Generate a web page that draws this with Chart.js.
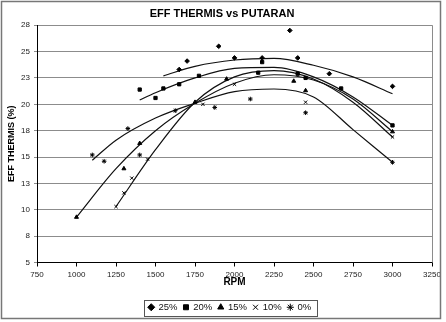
<!DOCTYPE html>
<html>
<head>
<meta charset="utf-8">
<script src="https://cdn.jsdelivr.net/npm/chart.js@4/dist/chart.umd.min.js"></script>
<style>
  html, body { margin: 0; padding: 0; background: #fff; }
  canvas { display: block; }
</style>
</head>
<body>
<canvas id="grafik" width="446" height="322"></canvas>
<script>
// nilai: putaran (rpm) dan efisiensi thermis (%)
var labelSeri = ["25%", "20%", "15%", "10%", "0%"];
var markerSeri = ["rectRot", "rect", "triangle", "crossRot", "star"];

var rpm25 = [1650, 1700, 1900, 2000, 2175, 2350, 2400, 2600, 3000];
var eff25 = [23.3, 24.1, 25.5, 24.4, 24.4, 27.0, 24.4, 22.9, 21.7];

var rpm20 = [1400, 1500, 1550, 1650, 1775, 2150, 2175, 2400, 2450, 2675, 3000];
var eff20 = [21.4, 20.6, 21.5, 21.9, 22.7, 23.0, 24.0, 22.9, 22.5, 21.5, 18.0];

var rpm15 = [1000, 1300, 1400, 1750, 1950, 2375, 2450, 3000];
var eff15 = [9.3, 13.9, 16.3, 20.2, 22.4, 22.2, 21.3, 17.4];

var rpm10 = [1250, 1300, 1350, 1450, 1800, 2000, 2450, 3000];
var eff10 = [10.3, 11.6, 13.0, 14.8, 20.0, 21.9, 20.2, 16.9];

var rpm0 = [1100, 1175, 1325, 1400, 1625, 1875, 2100, 2450, 3000];
var eff0 = [15.2, 14.6, 17.7, 15.2, 19.4, 19.7, 20.5, 19.2, 14.5];

// garis trend (polinomial di Excel), dibaca dari gambar tiap 250 rpm
var trendRpm25 = [1550, 1750, 2000, 2250, 2500, 2750, 3000];
var trendEff25 = [22.7, 23.6, 24.2, 24.35, 23.7, 22.6, 21.0];

var trendRpm20 = [1400, 1500, 1750, 2000, 2250, 2500, 2750, 3000];
var trendEff20 = [20.4, 21.1, 22.5, 23.4, 23.5, 22.6, 20.7, 18.0];

var trendRpm15 = [1000, 1250, 1500, 1750, 2000, 2250, 2500, 2750, 3000];
var trendEff15 = [9.3, 13.9, 17.5, 20.1, 22.0, 22.8, 22.3, 20.5, 17.4];

var trendRpm10 = [1250, 1500, 1750, 2000, 2250, 2500, 2750, 3000];
var trendEff10 = [10.3, 15.7, 20.2, 22.6, 23.2, 22.4, 20.2, 16.9];

var trendRpm0 = [1100, 1250, 1500, 1750, 2000, 2250, 2500, 2750, 3000];
var trendEff0 = [14.7, 16.6, 18.7, 20.1, 21.2, 21.45, 20.7, 17.6, 14.5];

var xTicks = [750, 1000, 1250, 1500, 1750, 2000, 2250, 2500, 2750, 3000, 3250];

function pasang(xs, ys) {
    var hasil = [];
    for (var i = 0; i < xs.length; i++) {
        hasil.push({x: xs[i], y: ys[i]});
    }
    return hasil;
}

var semuaRpm = [rpm25, rpm20, rpm15, rpm10, rpm0];
var semuaEff = [eff25, eff20, eff15, eff10, eff0];
var semuaTrendRpm = [trendRpm25, trendRpm20, trendRpm15, trendRpm10, trendRpm0];
var semuaTrendEff = [trendEff25, trendEff20, trendEff15, trendEff10, trendEff0];

var datasets = [];
for (var i = 0; i < labelSeri.length; i++) {
    datasets.push({
        label: labelSeri[i],
        data: pasang(semuaRpm[i], semuaEff[i]),
        pointStyle: markerSeri[i],
        pointRadius: 2.3,
        borderColor: '#000',
        backgroundColor: '#000',
        borderWidth: 1,
        showLine: false
    });
}
for (var j = 0; j < labelSeri.length; j++) {
    datasets.push({
        label: 'trend ' + labelSeri[j],
        data: pasang(semuaTrendRpm[j], semuaTrendEff[j]),
        showLine: true,
        pointRadius: 0,
        borderColor: '#111',
        borderWidth: 1.2,
        cubicInterpolationMode: 'monotone',
        fill: false
    });
}

var padLegenda = 6;

// bingkai luar, tepi plot dan kotak legenda
var bingkai = {
    id: 'bingkai',
    afterUpdate: function (chart) {
        // judul dan legenda sedikit ke kanan seperti aslinya
        var t = chart.titleBlock;
        if (t) { t.left += 6; t.right += 6; }
        var lg = chart.legend;
        if (lg) { lg.left += 14; lg.right += 14; }
    },
    beforeDraw: function (chart) {
        var ctx = chart.ctx;
        ctx.save();
        ctx.fillStyle = '#fff';
        ctx.fillRect(0, 0, chart.width, chart.height);
        ctx.restore();
    },
    afterDraw: function (chart) {
        var ctx = chart.ctx;
        var a = chart.chartArea;
        ctx.save();
        ctx.strokeStyle = '#8c8c8c';
        ctx.lineWidth = 1;
        ctx.beginPath();
        ctx.moveTo(a.right + 0.5, a.top);
        ctx.lineTo(a.right + 0.5, a.bottom);
        ctx.stroke();

        ctx.strokeStyle = '#777';
        ctx.lineWidth = 1.5;
        ctx.strokeRect(1.5, 1.5, 439, 317);

        var lg = chart.legend;
        if (lg && lg.lineWidths) {
            var lebar = lg.lineWidths[0];
            var mulai = (lg.left + padLegenda + lg.right - lebar) / 2;
            var kiri = mulai - 5;
            var kanan = mulai + lebar - padLegenda + 5;
            var atas = lg.top + padLegenda - 3;
            var tinggi = (lg._itemHeight || 9.5) + 6;
            ctx.strokeStyle = '#555';
            ctx.lineWidth = 1;
            ctx.strokeRect(Math.round(kiri) + 0.5, Math.round(atas) + 0.5, Math.round(kanan - kiri), Math.round(tinggi));
        }
        ctx.restore();
    }
};

Chart.defaults.font.family = '"Liberation Sans", Arial, sans-serif';
Chart.defaults.color = '#111';

new Chart(document.getElementById('grafik'), {
    type: 'scatter',
    data: {datasets: datasets},
    options: {
        responsive: false,
        animation: false,
        layout: {padding: {left: 0, right: 14, top: 0, bottom: 0}},
        plugins: {
            title: {
                display: true,
                text: 'EFF THERMIS vs PUTARAN',
                color: '#000',
                font: {size: 11, weight: 'bold'},
                padding: {top: 7, bottom: 5}
            },
            legend: {
                display: true,
                position: 'bottom',
                labels: {
                    usePointStyle: true,
                    boxWidth: 5,
                    boxHeight: 5,
                    padding: padLegenda,
                    color: '#111',
                    font: {size: 9.5},
                    filter: function (item) {
                        return item.datasetIndex < labelSeri.length;
                    }
                }
            },
            tooltip: {enabled: false}
        },
        scales: {
            x: {
                type: 'linear',
                min: 750,
                max: 3250,
                afterBuildTicks: function (scale) {
                    scale.ticks = xTicks.map(function (v) { return {value: v}; });
                },
                afterFit: function (scale) {
                    scale.height = 34;
                },
                ticks: {
                    font: {size: 8},
                    color: '#222',
                    padding: 3,
                    maxRotation: 0,
                    autoSkip: false,
                    callback: function (v) { return String(v); }
                },
                grid: {
                    drawOnChartArea: false,
                    drawTicks: true,
                    tickLength: 4,
                    color: '#000'
                },
                border: {color: '#000', width: 1},
                title: {
                    display: true,
                    text: 'RPM',
                    color: '#000',
                    font: {size: 10, weight: 'bold'},
                    padding: {top: 0, bottom: 8}
                }
            },
            y: {
                min: 5,
                max: 27.5,
                afterFit: function (scale) {
                    scale.width = 37;
                },
                ticks: {
                    stepSize: 2.5,
                    font: {size: 8},
                    color: '#222',
                    padding: 4,
                    callback: function (v) { return String(Math.round(v)); }
                },
                grid: {
                    color: '#8c8c8c',
                    lineWidth: 1,
                    drawTicks: true,
                    tickLength: 3
                },
                border: {color: '#000', width: 1},
                title: {
                    display: true,
                    text: 'EFF THERMIS (%)',
                    color: '#000',
                    font: {size: 9, weight: 'bold'},
                    padding: {top: 6, bottom: 0}
                }
            }
        }
    },
    plugins: [bingkai]
});
</script>
</body>
</html>
